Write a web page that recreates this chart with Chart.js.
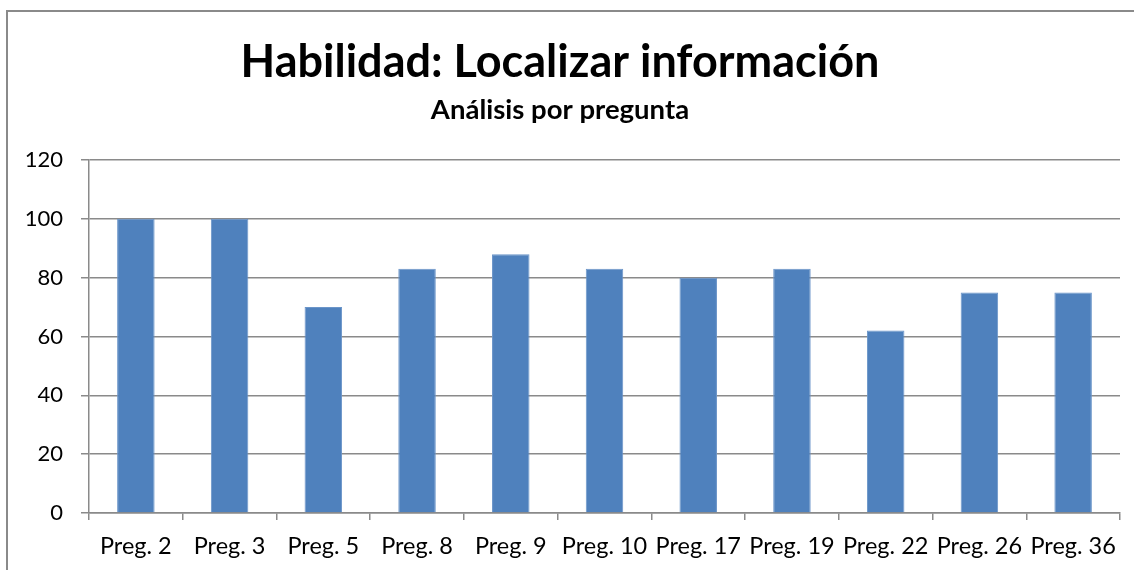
<!DOCTYPE html>
<html>
<head>
<meta charset="utf-8">
<script src="https://cdn.jsdelivr.net/npm/chart.js@4.4.0/dist/chart.umd.min.js"></script>
<style>
  html, body { margin: 0; padding: 0; background: #fff; }
  #wrap { position: relative; width: 1134px; height: 570px; overflow: hidden; }
  #marco { position: absolute; left: 6px; top: 10px; width: 1200px; height: 700px;
           border: 2px solid #8a8a8a; box-sizing: border-box; pointer-events: none; }
</style>
</head>
<body>
<div id="wrap">
  <canvas id="myChart"></canvas>
  <div id="marco"></div>
</div>
<script>
// Datos del gráfico
var preguntas = ["Preg. 2", "Preg. 3", "Preg. 5", "Preg. 8", "Preg. 9", "Preg. 10",
                 "Preg. 17", "Preg. 19", "Preg. 22", "Preg. 26", "Preg. 36"];
var porcentajes = [100, 100, 70, 83, 88, 83, 80, 83, 62, 75, 75];
var ejeYMin = 0;
var ejeYMax = 120;
var ejeYPaso = 20;

var titulo = "Habilidad: Localizar información";
var subtitulo = "Análisis por pregunta";

var ctx = document.getElementById("myChart").getContext("2d");
var fuente = "Lato, 'Open Sans', sans-serif";
var gris = "#8a8a8a";

var myChart = new Chart(ctx, {
    type: "bar",
    data: {
        labels: preguntas,
        datasets: [
            {
                label: "Porcentaje",
                data: porcentajes,
                backgroundColor: "#4f81bd",
                borderColor: "#6b95c9",
                borderWidth: 1,
                categoryPercentage: 1,
                barPercentage: 0.4,
            },
        ],
    },
    options: {
        responsive: true,
        maintainAspectRatio: false,
        animation: false,
        layout: {
            padding: { left: 0, right: 14, top: 0, bottom: 0 },
        },
        plugins: {
            legend: { display: false },
            tooltip: { enabled: false },
            title: {
                display: true,
                text: titulo,
                color: "#000",
                font: { family: fuente, size: 45, weight: "bold", lineHeight: 1.2 },
                padding: { top: 35, bottom: 0 },
            },
            subtitle: {
                display: true,
                text: subtitulo,
                color: "#000",
                font: { family: fuente, size: 27.5, weight: "bold", lineHeight: 1.2 },
                padding: { top: 5, bottom: 33 },
            },
        },
        scales: {
            x: {
                grid: {
                    display: true,
                    drawOnChartArea: false,
                    drawTicks: true,
                    tickLength: 7,
                    color: gris,
                    lineWidth: 1.5,
                },
                border: { display: true, color: gris, width: 1.5 },
                ticks: {
                    color: "#000",
                    font: { family: fuente, size: 23.5 },
                    padding: 12,
                    maxRotation: 0,
                    autoSkip: false,
                },
                afterFit: function (scale) {
                    scale.height = 57;
                },
            },
            y: {
                min: ejeYMin,
                max: ejeYMax,
                grid: {
                    color: gris,
                    lineWidth: 1.5,
                    drawTicks: true,
                    tickLength: 8,
                },
                border: { display: true, color: gris, width: 1.5 },
                ticks: {
                    stepSize: ejeYPaso,
                    color: "#000",
                    font: { family: fuente, size: 22 },
                    padding: 18,
                },
                afterFit: function (scale) {
                    scale.width = 89;
                },
            },
        },
    },
});
</script>
</body>
</html>
